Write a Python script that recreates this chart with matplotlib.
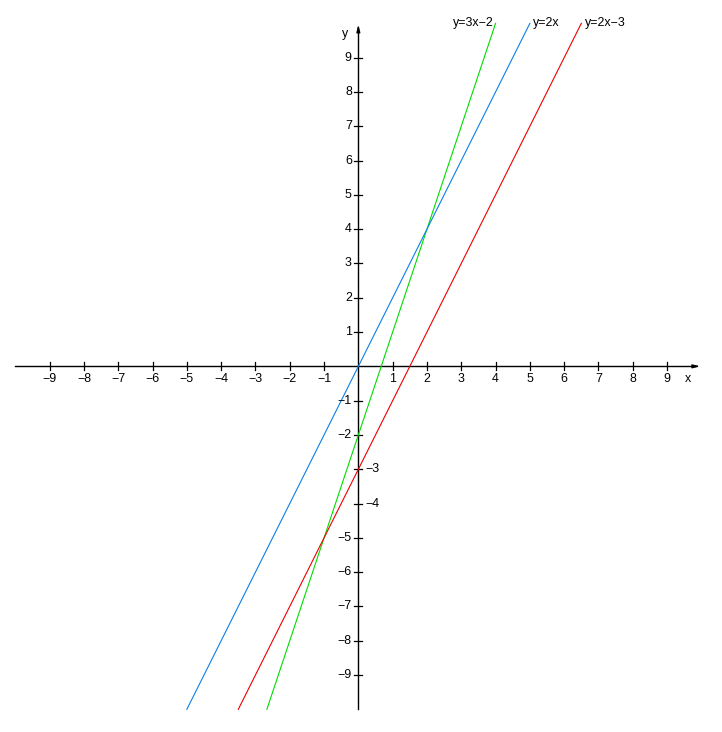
import numpy as np
import matplotlib
matplotlib.use("Agg")
import matplotlib.pyplot as plt

# lines y = k*x + b, drawn between y=-10 and y=10
names = ["y=3x\u22122", "y=2x", "y=2x\u22123"]
slopes = [3, 2, 2]
intercepts = [-2, 0, -3]
colors = ["#00dd00", "#0a7fe8", "#ee0000"]
ticks = [-9, -8, -7, -6, -5, -4, -3, -2, -1, 1, 2, 3, 4, 5, 6, 7, 8, 9]
# y tick labels that sit on the right of the axis
right_labels = [-3, -4]

plt.rcParams['font.family'] = ['Liberation Sans', 'DejaVu Sans']
fs = 8.9

fig = plt.figure(figsize=(7.22, 7.32), dpi=100)
ax = fig.add_axes([0, 0, 1, 1])
ax.set_xlim(-10.446, 10.60)
ax.set_ylim(-10.66, 10.68)
ax.axis("off")

# axes
ax.plot([-10, 9.8], [0, 0], color="black", lw=1)
ax.plot([0, 0], [-10, 9.8], color="black", lw=1)
ax.annotate("", xy=(10.05, 0), xytext=(9.7, 0),
            arrowprops=dict(arrowstyle="-|>,head_length=0.4,head_width=0.1",
                            color="black", lw=1))
ax.annotate("", xy=(0, 10.05), xytext=(0, 9.7),
            arrowprops=dict(arrowstyle="-|>,head_length=0.4,head_width=0.1",
                            color="black", lw=1))

tl = 0.12
for t in ticks:
    ax.plot([t, t], [-tl, tl], color="black", lw=0.9)
    ax.plot([-tl, tl], [t, t], color="black", lw=0.9)
    ax.text(t, -0.37, str(t).replace("-", "\u2212"), ha="center", va="center",
            fontsize=fs)
    if t in right_labels:
        ax.text(0.2, t, str(t).replace("-", "\u2212"), ha="left", va="center",
                fontsize=fs)
    else:
        ax.text(-0.19, t, str(t).replace("-", "\u2212"), ha="right", va="center",
                fontsize=fs)

ax.text(9.6, -0.37, "x", ha="center", va="center", fontsize=fs)
ax.text(-0.38, 9.7, "y", ha="center", va="center", fontsize=fs)

for name, k, b, c in zip(names, slopes, intercepts, colors):
    x0 = (-10 - b) / k
    x1 = (10 - b) / k
    ax.plot([x0, x1], [-10, 10], color=c, lw=0.8)
    if k == 3:
        ax.text(x1 - 0.05, 10, name, ha="right", va="center", fontsize=fs)
    else:
        ax.text(x1 + 0.1, 10, name, ha="left", va="center", fontsize=fs)

fig.savefig("out.png", dpi=100)
